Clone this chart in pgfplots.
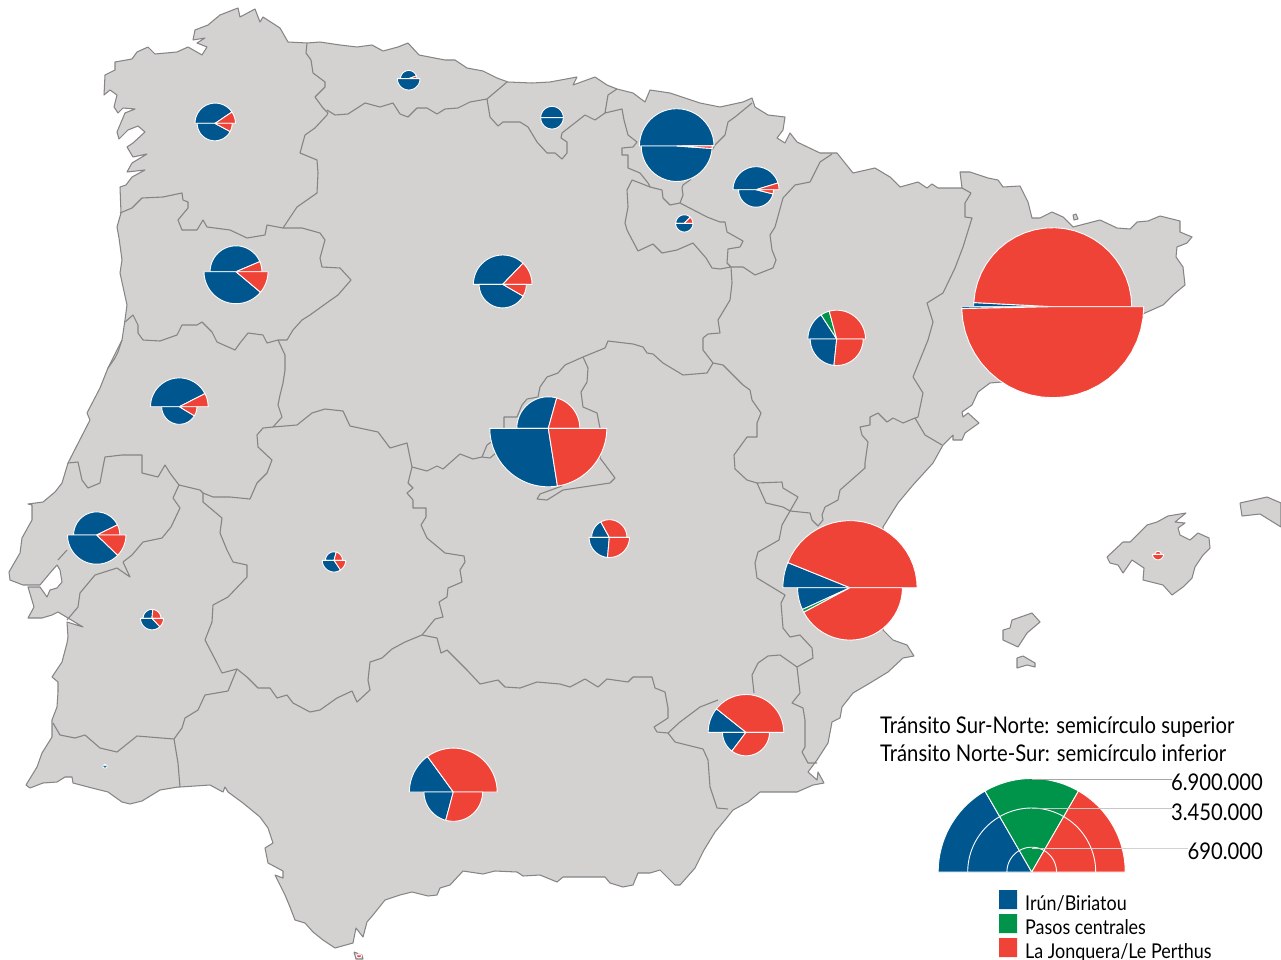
\documentclass[border=0pt]{standalone}
\usepackage{pgfplots}
\pgfplotsset{compat=1.18}
\usepackage{fontspec}
\setmainfont[FakeStretch=0.88]{Lato}
\definecolor{land}{HTML}{D4D1D1}
\definecolor{edge}{HTML}{858585}
\definecolor{blu}{HTML}{00568F}
\definecolor{grn}{HTML}{00944B}
\definecolor{red}{HTML}{F04338}

% one sector: cx, cy, radius, start angle, end angle, colour (pixel coordinates, y down)
\newcommand{\pwedge}[6]{%
  \gdef\wpts{(#1,#2)}%
  \foreach \k in {0,...,24}{%
    \pgfmathsetmacro\wa{#4+(#5-#4)*\k/24}%
    \pgfmathsetmacro\wx{#1+#3*cos(\wa)}%
    \pgfmathsetmacro\wy{#2-#3*sin(\wa)}%
    \xdef\wpts{\wpts (\wx,\wy)}%
  }%
  \xdef\wpts{\wpts (#1,#2)}%
  \edef\wtmp{\noexpand\addplot[fill=#6,draw=white,line width=0.9pt,line join=round] coordinates {\wpts};}%
  \wtmp
}
\newcommand{\bline}[1]{\addplot[draw=edge,line width=1.1pt,line join=round] coordinates {#1};}
\newcommand{\isle}[1]{\addplot[fill=land,draw=edge,line width=1.05pt,line join=round] coordinates {#1};}

\begin{document}
\begin{tikzpicture}
\begin{axis}[
  hide axis, scale only axis,
  width=1281pt, height=960pt,
  xmin=0, xmax=1281, ymin=0, ymax=960,
  y dir=reverse,
  clip=true,
  legend style={draw=none}
]
% peninsula
\isle{(120,187)(126,185)(132,177)(145,170)(127,172)(132,163)(147,154)(133,157)(127,147)(133,143)(145,132)(138,126)(128,130)(119,139)(117,132)(125,113)(135,109)(123,108)(118,113)(114,107)(117,95)(110,90)(104,95)(105,75)(115,70)(115,62)(132,59)(137,52)(148,47)(155,54)(177,52)(188,47)(202,55)(207,47)(197,43)(205,38)(193,40)(195,30)(208,25)(220,15)(238,8)(240,17)(255,9)(260,22)(263,17)(280,28)(288,42)(307,43)(320,42)(340,45)(357,47)(372,45)(383,51)(398,47)(408,43)(419,55)(445,60)(455,60)(467,68)(483,71)(497,78)(508,82)(532,83)(550,82)(577,77)(573,85)(595,77)(607,85)(617,89)(633,93)(645,102)(650,90)(670,93)(700,103)(720,107)(743,102)(752,98)(755,107)(768,115)(785,117)(783,130)(777,138)(785,143)(790,133)(797,142)(820,153)(837,153)(853,173)(875,168)(890,177)(900,187)(918,182)(927,188)(932,184)(938,188)(962,188)(960,172)(970,172)(988,178)(998,180)(1003,187)(1020,186)(1028,202)(1032,218)(1040,218)(1052,212)(1063,217)(1073,227)(1100,220)(1117,228)(1130,229)(1137,222)(1148,221)(1160,216)(1180,221)(1180,232)(1192,237)(1187,243)(1177,247)(1176,257)(1183,267)(1185,285)(1173,295)(1163,305)(1145,313)(1002,382)(990,383)(978,392)(972,405)(962,412)(963,417)(968,413)(979,423)(965,433)(962,440)(953,440)(953,435)(943,445)(933,463)(913,485)(898,503)(883,527)(883,630)(893,640)(907,645)(914,656)(903,658)(888,672)(870,683)(853,693)(842,707)(840,718)(832,722)(828,743)(817,760)(808,772)(817,780)(818,772)(824,783)(813,785)(797,792)(777,792)(760,792)(748,802)(733,810)(725,820)(715,832)(704,850)(695,868)(680,885)(675,885)(660,870)(650,873)(638,873)(633,885)(623,887)(610,883)(605,877)(587,877)(563,877)(557,882)(540,875)(523,876)(517,872)(495,871)(483,874)(463,871)(450,885)(440,888)(437,895)(428,896)(412,892)(400,895)(385,900)(373,915)(367,922)(363,937)(356,928)(353,943)(335,948)(323,940)(313,932)(305,923)(295,920)(290,907)(285,895)(275,875)(283,878)(283,871)(268,863)(265,848)(273,843)(268,828)(260,817)(243,803)(228,792)(225,787)(223,792)(210,785)(180,787)(178,787)(160,790)(142,801)(130,804)(122,802)(108,792)(92,788)(73,783)(72,777)(65,777)(57,782)(43,783)(30,788)(26,785)(37,767)(42,753)(52,737)(52,720)(57,707)(58,692)(58,682)(52,677)(62,662)(67,643)(68,637)(67,622)(83,627)(58,612)(52,615)(42,618)(28,618)(34,607)(28,587)(40,587)(47,597)(50,590)(57,588)(62,582)(60,570)(57,565)(50,573)(40,585)(23,585)(10,580)(9,572)(20,553)(22,538)(32,520)(32,505)(28,504)(43,502)(55,492)(62,483)(68,463)(90,420)(87,413)(100,388)(108,368)(122,340)(125,320)(127,305)(120,273)(122,260)(119,238)(117,227)(121,213)(120,187)}
% islands
\isle{(1107,557)(1123,542)(1130,542)(1147,525)(1157,522)(1168,516)(1186,513)(1175,522)(1185,523)(1178,528)(1180,535)(1190,540)(1198,533)(1209,538)(1210,548)(1203,555)(1195,567)(1192,578)(1183,587)(1172,595)(1163,585)(1143,580)(1144,568)(1132,560)(1123,573)(1118,565)(1110,563)(1107,557)}
\isle{(1240,503)(1267,497)(1281,503)(1281,527)(1260,514)(1242,516)(1240,503)}
\isle{(1003,630)(1010,628)(1012,620)(1032,613)(1040,622)(1027,633)(1018,647)(1003,640)(1003,630)}
\isle{(1017,658)(1023,656)(1035,663)(1035,667)(1027,665)(1017,668)(1017,658)}
\isle{(1073,215)(1076,214)(1078,219)(1074,220)(1073,215)}
\isle{(354,952)(362,955)(363,959)(356,959)(354,952)}
% internal borders
\bline{(307,43)(306,53)(311,60)(313,73)(325,82)(325,87)(315,97)(323,108)(328,113)(327,115)(315,128)(305,135)(300,153)(317,160)(318,173)(317,193)(297,207)(283,228)(267,225)(265,235)(247,238)(230,230)(207,227)(203,220)(197,230)(182,230)(178,220)(188,208)(188,202)(183,200)(182,193)(163,197)(142,198)(132,208)(120,213)}
\bline{(283,228)(302,228)(320,233)(325,240)(320,258)(322,267)(340,268)(351,280)(338,295)(328,302)(310,315)(302,320)(293,330)(287,340)(278,340)(267,343)(263,335)(248,333)(240,343)(235,350)(217,342)(212,332)(202,322)(197,325)(182,325)(177,335)(160,341)(143,340)(138,333)(138,325)(133,315)(125,322)}
\bline{(278,340)(285,355)(285,370)(283,383)(280,395)(278,405)(282,417)(273,427)(297,425)(312,413)(325,409)(343,411)(350,426)(378,432)(390,448)(407,443)(412,467)(427,471)(437,466)(443,469)(460,454)(473,459)(482,457)(487,445)(497,438)}
\bline{(482,457)(490,458)(497,452)}
\bline{(504,428)(504,417)(517,417)(522,405)(527,399)(538,397)(540,387)(547,377)(558,373)(565,365)(583,357)(605,348)(608,341)(633,344)(643,347)(647,353)(653,354)(663,363)(683,375)(707,373)(713,363)(703,350)(703,338)(708,334)(720,333)(718,320)(730,300)(732,283)(731,267)}
\bline{(583,357)(588,368)(587,382)(581,392)(583,407)(597,413)(600,428)(600,458)(615,478)(610,483)(590,486)(563,490)(547,500)(537,499)(540,494)(562,486)}
\bline{(731,267)(720,269)(712,268)(706,258)(693,243)(677,250)(662,253)(653,244)(638,251)(627,230)(625,223)(628,207)(627,190)(632,180)(640,183)(650,187)(662,190)(663,198)(670,205)(680,203)(707,217)(720,222)(725,222)(727,232)(743,241)(740,247)(728,249)(727,263)(731,267)(743,267)(755,275)(773,268)(776,260)(772,250)(770,235)(775,227)(783,198)(795,185)(810,182)(820,162)(832,154)}
\bline{(752,103)(735,117)(728,122)(725,135)(715,145)(712,150)(690,180)(683,185)(682,188)(683,195)(680,203)}
\bline{(617,89)(608,95)(605,113)(622,109)(624,120)(628,135)(637,142)(633,147)(622,148)(622,155)(628,155)(628,168)(640,173)(648,183)(650,187)}
\bline{(507,82)(500,88)(487,99)(490,117)(498,126)(503,122)(520,122)(528,127)(537,142)(547,153)(555,153)(562,159)(567,153)(567,142)(561,138)(562,133)(585,115)(595,120)(605,113)}
\bline{(487,99)(470,102)(458,108)(445,109)(437,114)(427,108)(417,108)(408,117)(400,114)(393,103)(380,107)(365,103)(348,114)(335,115)(327,110)}
\bline{(971,193)(965,203)(965,217)(972,218)(963,247)(955,268)(943,293)(927,303)(933,322)(928,340)(913,377)(923,393)(918,417)(915,418)(925,435)(942,445)}
\bline{(962,188)(971,193)}
\bline{(915,418)(903,423)(893,418)(887,422)(878,413)(870,417)(870,425)(860,427)(862,435)(868,442)(865,463)(865,468)(848,483)(840,490)(838,500)(825,507)(822,515)(823,520)(818,526)(812,520)(810,513)(790,511)(798,497)(783,488)(782,482)(757,483)(766,503)(783,507)(790,511)}
\bline{(757,483)(747,480)(735,469)(734,455)(747,437)(757,437)(757,423)(761,413)(752,400)(750,390)(743,385)(723,365)(713,363)}
\bline{(790,511)(782,525)(779,540)(758,552)(755,563)(757,578)(785,595)(781,603)(783,628)(790,637)(800,635)(812,648)(813,658)(797,667)(780,655)(768,656)(758,663)(752,675)(754,693)}
\bline{(797,667)(800,693)(792,703)(803,708)(805,720)(805,747)(802,752)(808,763)(817,763)}
\bline{(668,733)(680,722)(700,707)(718,700)}
\bline{(668,733)(675,742)(703,749)(708,760)(710,787)(717,808)(728,809)}
\bline{(422,635)(437,638)(441,653)(447,650)(467,670)(480,684)(498,680)(505,687)(520,688)(537,682)(560,684)(570,687)(585,679)(598,687)(607,679)(628,682)(633,677)(652,677)(655,688)(665,692)(668,708)(668,718)(654,727)(657,732)(668,733)}
\bline{(422,635)(405,642)(392,649)(382,658)(370,662)(368,680)(370,690)(357,702)(352,691)(337,698)(320,710)(310,712)(293,703)(287,695)(277,698)(270,688)(258,688)(247,677)(237,669)(222,673)(217,663)(205,640)(212,622)(213,605)(228,597)(247,577)(247,565)(233,562)(227,550)(220,533)(222,518)(203,502)(203,493)}
\bline{(237,669)(228,691)(205,695)(198,710)(185,718)(182,728)(174,739)(137,736)(117,752)(100,748)(85,735)(75,738)(60,735)(53,723)}
\bline{(174,739)(178,763)(180,787)}
\bline{(179,485)(200,490)(203,493)(213,497)(230,497)(250,499)(257,483)(267,473)(272,460)(258,447)(257,435)(263,428)(273,427)}
\bline{(179,485)(170,473)(165,465)(158,477)(142,473)(142,455)(122,455)(105,457)(103,467)(100,483)(88,488)(82,480)(78,462)(68,463)}
\bline{(179,485)(173,498)(180,508)(171,527)(162,538)(143,542)(132,555)(123,562)(130,577)(117,568)(95,575)(80,593)(78,607)(67,620)}
\bline{(412,467)(408,483)(413,488)(407,493)(413,500)(413,508)(426,508)(426,517)(421,525)(427,538)(445,553)(464,556)(465,562)(460,570)(462,582)(448,588)(447,597)(439,602)(443,617)(435,619)(422,635)}
\bline{(67,550)(58,560)}
\bline{(122,340)(118,352)(115,358)(108,368)}
% pies: upper half then lower half, angles in degrees
\pwedge{215.2}{123.3}{20.2}{180}{34}{blu}
\pwedge{215.2}{123.3}{20.2}{34}{0}{red}
\pwedge{214.7}{123.3}{17.5}{180}{332}{blu}
\pwedge{214.7}{123.3}{17.5}{332}{360}{red}
\pwedge{408.7}{78.7}{8.2}{180}{20}{blu}
\pwedge{408.7}{78.7}{8.2}{20}{0}{red}
\pwedge{408.7}{78.7}{11.3}{180}{360}{blu}
\pwedge{552}{117.7}{11.3}{180}{0}{blu}
\pwedge{552}{117.7}{11.3}{180}{360}{blu}
\pwedge{676.7}{146}{37.3}{180}{0.5}{blu}
\pwedge{676.7}{146}{37.3}{0.5}{0}{red}
\pwedge{676.7}{146}{35.5}{180}{356}{blu}
\pwedge{676.7}{146}{35.5}{356}{360}{red}
\pwedge{756}{189.7}{23}{180}{17}{blu}
\pwedge{756}{189.7}{23}{17}{0}{red}
\pwedge{756}{189.7}{17.5}{180}{346}{blu}
\pwedge{756}{189.7}{17.5}{346}{360}{red}
\pwedge{684.3}{223.3}{8.5}{180}{45}{blu}
\pwedge{684.3}{223.3}{8.5}{45}{0}{red}
\pwedge{684.3}{223.3}{8.7}{180}{360}{blu}
\pwedge{502.7}{284.3}{29.3}{180}{46}{blu}
\pwedge{502.7}{284.3}{29.3}{46}{0}{red}
\pwedge{502.7}{284.3}{23.6}{180}{330}{blu}
\pwedge{502.7}{284.3}{23.6}{330}{360}{red}
\pwedge{236}{271.7}{25.9}{180}{23}{blu}
\pwedge{236}{271.7}{25.9}{23}{0}{red}
\pwedge{236}{271.7}{32}{180}{320}{blu}
\pwedge{236}{271.7}{32}{320}{360}{red}
\pwedge{179.3}{406.7}{28.8}{180}{27}{blu}
\pwedge{179.3}{406.7}{28.8}{27}{0}{red}
\pwedge{179.3}{406.7}{17.6}{180}{329}{blu}
\pwedge{179.3}{406.7}{17.6}{329}{360}{red}
\pwedge{96.7}{535}{23.1}{180}{26}{blu}
\pwedge{96.7}{535}{23.1}{26}{0}{red}
\pwedge{96.7}{535}{29.2}{180}{316}{blu}
\pwedge{96.7}{535}{29.2}{316}{360}{red}
\pwedge{152}{618.3}{8.9}{180}{85}{blu}
\pwedge{152}{618.3}{8.9}{85}{0}{red}
\pwedge{152}{618.3}{11.5}{180}{313}{blu}
\pwedge{152}{618.3}{11.5}{313}{360}{red}
\pwedge{334}{560.3}{8.5}{180}{75}{blu}
\pwedge{334}{560.3}{8.5}{75}{0}{red}
\pwedge{334}{560.3}{11.7}{180}{304}{blu}
\pwedge{334}{560.3}{11.7}{304}{360}{red}
\pwedge{548.3}{428.3}{31.5}{180}{74.5}{blu}
\pwedge{548.3}{428.3}{31.5}{74.5}{0}{red}
\pwedge{548.3}{428.3}{58.5}{180}{279}{blu}
\pwedge{548.3}{428.3}{58.5}{279}{360}{red}
\pwedge{609.3}{537.3}{17.6}{180}{119}{blu}
\pwedge{609.3}{537.3}{17.6}{119}{0}{red}
\pwedge{609.3}{537.3}{20.2}{180}{265}{blu}
\pwedge{609.3}{537.3}{20.2}{265}{360}{red}
\pwedge{836.7}{339}{28.8}{180}{123}{blu}
\pwedge{836.7}{339}{28.8}{123}{105}{grn}
\pwedge{836.7}{339}{28.8}{105}{0}{red}
\pwedge{836.7}{339}{26.5}{180}{264}{blu}
\pwedge{836.7}{339}{26.5}{264}{360}{red}
\pwedge{1052.7}{306.7}{79}{180}{177}{blu}
\pwedge{1052.7}{306.7}{79}{177}{0}{red}
\pwedge{1052.7}{306.7}{91}{180}{181.2}{blu}
\pwedge{1052.7}{306.7}{91}{181.2}{360}{red}
\pwedge{850}{587.7}{67.1}{180}{158}{blu}
\pwedge{850}{587.7}{67.1}{158}{0}{red}
\pwedge{850}{587.7}{52.4}{180}{204.6}{blu}
\pwedge{850}{587.7}{52.4}{204.6}{208}{grn}
\pwedge{850}{587.7}{52.4}{208}{360}{red}
\pwedge{746}{732.3}{37.8}{180}{141.5}{blu}
\pwedge{746}{732.3}{37.8}{141.5}{0}{red}
\pwedge{746}{732.3}{23.5}{180}{233}{blu}
\pwedge{746}{732.3}{23.5}{233}{360}{red}
\pwedge{453.3}{792}{43.9}{180}{126}{blu}
\pwedge{453.3}{792}{43.9}{126}{0}{red}
\pwedge{453.3}{792}{29.3}{180}{255}{blu}
\pwedge{453.3}{792}{29.3}{255}{360}{red}
\pwedge{1158}{554.3}{3}{180}{0}{red}
\pwedge{1158}{554.3}{5.5}{180}{360}{red}
\pwedge{105}{765.7}{1.3}{180}{0}{blu}
\pwedge{105}{765.7}{2.3}{180}{360}{blu}
\pwedge{359}{955}{1.3}{180}{0}{red}
\pwedge{359}{955}{2.8}{180}{360}{red}
% scale key
\pwedge{1031.7}{872}{93.5}{180}{120}{blu}
\pwedge{1031.7}{872}{93.5}{120}{60}{grn}
\pwedge{1031.7}{872}{93.5}{60}{0}{red}
\pwedge{1031.7}{872}{64}{180}{120}{blu}
\pwedge{1031.7}{872}{64}{120}{60}{grn}
\pwedge{1031.7}{872}{64}{60}{0}{red}
\pwedge{1031.7}{872}{24.8}{180}{120}{blu}
\pwedge{1031.7}{872}{24.8}{120}{60}{grn}
\pwedge{1031.7}{872}{24.8}{60}{0}{red}
\addplot[draw=gray!70,line width=0.8pt] coordinates {(1031.7,779)(1172,779)};
\addplot[draw=gray!45,line width=0.8pt] coordinates {(1031.7,808.5)(1172,808.5)};
\addplot[draw=gray!35,line width=0.8pt] coordinates {(1031.7,848.3)(1188,848.3)};
% colour key
\addplot[fill=blu,draw=none] coordinates {(999,890)(1017,890)(1017,909)(999,909)(999,890)};
\addplot[fill=grn,draw=none] coordinates {(999,914)(1017,914)(1017,933)(999,933)(999,914)};
\addplot[fill=red,draw=none] coordinates {(999,938)(1017,938)(1017,957)(999,957)(999,938)};
\node[anchor=base west,inner sep=0,font=\fontsize{23}{26}\selectfont] at (axis cs:880,733) {Tránsito Sur-Norte: semicírculo superior};
\node[anchor=base west,inner sep=0,font=\fontsize{23}{26}\selectfont] at (axis cs:880,761) {Tránsito Norte-Sur: semicírculo inferior};
\node[anchor=base east,inner sep=0,font=\fontsize{23}{26}\selectfont] at (axis cs:1263,790) {6.900.000};
\node[anchor=base east,inner sep=0,font=\fontsize{23}{26}\selectfont] at (axis cs:1263,820) {3.450.000};
\node[anchor=base east,inner sep=0,font=\fontsize{23}{26}\selectfont] at (axis cs:1263,859) {690.000};
\node[anchor=base west,inner sep=0,font=\fontsize{20.4}{24}\selectfont] at (axis cs:1025,910) {Irún/Biriatou};
\node[anchor=base west,inner sep=0,font=\fontsize{20.4}{24}\selectfont] at (axis cs:1025,934) {Pasos centrales};
\node[anchor=base west,inner sep=0,font=\fontsize{20.4}{24}\selectfont] at (axis cs:1025,958) {La Jonquera/Le Perthus};
\end{axis}
\pgfresetboundingbox
\path (0,0) rectangle (1281pt,960pt);
\end{tikzpicture}
\end{document}
